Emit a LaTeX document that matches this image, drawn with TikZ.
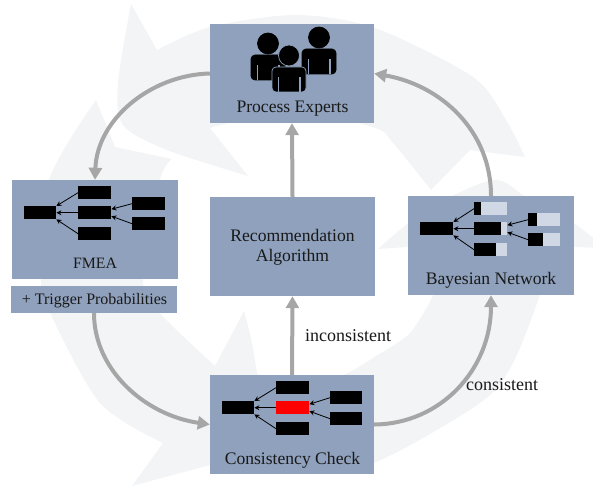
\documentclass[tikz,border=0pt]{standalone}
\usepackage{fontspec}
\setmainfont{Liberation Serif}
\usetikzlibrary{calc,arrows.meta}
\definecolor{boxblue}{HTML}{8FA1BC}
\definecolor{ringgrey}{HTML}{F3F4F6}
\definecolor{linkgrey}{HTML}{A6A6A6}
\definecolor{probpale}{HTML}{D0D7E5}
\tikzset{
  bigbox/.style={fill=boxblue,draw=none,inner sep=0pt,minimum width=#1,minimum height=99pt},
  bigbox/.default=165pt,
  lab/.style={font=\fontsize{17.6}{20}\selectfont,text=black!90,inner sep=0pt,anchor=base},
  flow/.style={draw=linkgrey,line width=4pt,-{Triangle[length=12pt,width=13pt]}},
  ringpart/.style={fill=ringgrey,draw=none},
  bar/.style={fill=black,draw=none,inner sep=0pt,minimum width=33pt,minimum height=13pt,anchor=north west},
  palebar/.style={fill=probpale,draw=none,inner sep=0pt,minimum width=33pt,minimum height=13pt,anchor=north west},
  thin link/.style={draw=black,line width=0.8pt,-{Stealth[length=5pt,width=5pt]}},
}
\newcommand{\person}[3]{%
  \fill[black,draw=#3,line width=0.7pt] (#1+17,#2-11.5) circle (10.5);
  \fill[black,draw=#3,line width=0.7pt,rounded corners=4pt]
     (#1,#2+25) -- (#1,#2) -- (#1+34,#2) -- (#1+34,#2+25) -- cycle;
  \fill[boxblue] (#1+5.5,#2+10) rectangle (#1+7,#2+25.5);
  \fill[boxblue] (#1+27,#2+10) rectangle (#1+28.5,#2+25.5);
}
\newcommand{\netlinks}[1]{%
  \draw[thin link] (#1a.west) -- (#1m.north east);
  \draw[thin link] (#1b.west) -- (#1m.east);
  \draw[thin link] (#1c.west) -- (#1m.south east);
  \draw[thin link] (#1d.west) -- ($(#1b.east)+(0,-3.5)$);
  \draw[thin link] (#1e.west) -- ($(#1b.east)+(0,3.5)$);
}
\begin{document}
\begin{tikzpicture}[x=1pt,y=-1pt]
\useasboundingbox (0,0) rectangle (593,486);
% ---- background ring
\fill[ringpart] plot[smooth] coordinates {(157,50) (210,27) (296,15) (375,28) (473,77) (506,120) (525,157)}
  -- (470,150) -- (431,190)
  -- plot[smooth] coordinates {(431,190) (393,143) (375,128) (296,110) (210,128)}
  -- (248,176)
  -- plot[smooth] coordinates {(248,176) (167,150) (123,125) (118,83) (131,4)}
  -- cycle;
\fill[ringpart] plot[smooth] coordinates {(96,100) (49,180) (41,279) (50,313) (100,403) (163,443)}
  -- (132,486) -- (210,465) -- (300,430) -- (257,373)
  -- plot[smooth] coordinates {(257,373) (251,338) (244,311)}
  -- (215,366)
  -- plot[smooth] coordinates {(215,366) (160,313) (143,279) (160,180) (172,159)}
  -- (115,147) -- cycle;
\fill[ringpart] plot[smooth] coordinates {(300,473) (374,463) (480,403) (513,363) (540,295) (548,270)}
  -- (574,247) -- (600,248) -- (600,243) -- (574,223)
  -- plot[smooth] coordinates {(574,223) (526,197) (493,180) (426,210) (378,249)}
  -- (408,247) -- (425,250) -- (433,296)
  -- plot[smooth] coordinates {(433,296) (410,333) (373,358) (343,375) (300,385)}
  -- cycle;
% ---- boxes
\node[bigbox=164pt] (pe) at (292,73.5) {};
\node[bigbox=166pt] (fmea) at (95,229.5) {};
\node[fill=boxblue,inner sep=0pt,minimum width=166pt,minimum height=27pt] (trig) at (94,299.5) {};
\node[bigbox=165pt] (rec) at (292.5,246.5) {};
\node[bigbox=166pt] (bn) at (491,245.5) {};
\node[bigbox=164pt] (cc) at (292,424.5) {};
% ---- connectors
\draw[flow] (pe.west) .. controls (150,75) and (97,120) .. (fmea.north);
\draw[flow] (bn.north) .. controls (491,130) and (440,85) .. (pe.east);
\draw[flow] (trig.south) .. controls (94,370) and (145,415) .. (cc.west);
\draw[flow] (cc.east) .. controls (440,424) and (491,370) .. (bn.south);
\draw[flow] (rec.north) -- (pe.south);
\draw[flow] (cc.north) -- (rec.south);
% ---- people
\person{251}{55}{black}
\person{302}{49}{black}
\person{272}{67}{boxblue}
% ---- FMEA network
\node[bar,minimum width=32pt] (fm) at (24,206) {};
\node[bar] (fa) at (78,186) {};
\node[bar] (fb) at (78,206) {};
\node[bar] (fc) at (78,227) {};
\node[bar] (fd) at (132,197) {};
\node[bar] (fe) at (132,217) {};
\netlinks{f}
% ---- Bayesian network
\node[bar] (bm) at (420,222) {};
\node[palebar] (ba) at (474,202) {};
\node[palebar] (bb) at (474,222) {};
\node[palebar] (bc) at (474,243) {};
\node[palebar,minimum width=32pt] (bd) at (528,213) {};
\node[palebar,minimum width=32pt] (be) at (528,233) {};
\fill[black] (474,202) rectangle (481,215);
\fill[black] (474,222) rectangle (501,235);
\fill[black] (474,243) rectangle (496,256);
\fill[black] (528,213) rectangle (537,226);
\fill[black] (528,233) rectangle (543,246);
\netlinks{b}
% ---- Consistency network
\node[bar,minimum width=32pt] (cm) at (222,401) {};
\node[bar] (ca) at (276,381) {};
\node[bar,fill=red] (cb) at (276,401) {};
\node[bar] (cc2) at (276,422) {};
\node[bar,minimum width=32pt] (cd) at (330,391) {};
\node[bar,minimum width=32pt] (ce) at (330,412) {};
\draw[thin link] (ca.west) -- (cm.north east);
\draw[thin link] (cb.west) -- (cm.east);
\draw[thin link] (cc2.west) -- (cm.south east);
\draw[thin link] (cd.west) -- ($(cb.east)+(0,-3.5)$);
\draw[thin link] (ce.west) -- ($(cb.east)+(0,3.5)$);
% ---- labels
\node[lab] (t1) at (292.5,112.7) {Process Experts};
\node[lab,font=\fontsize{15.8}{18}\selectfont] (t2) at (95,268.5) {FMEA};
\node[lab,font=\fontsize{16}{18}\selectfont] (t3) at (94.5,304) {+ Trigger Probabilities};
\node[lab] (t4a) at (292.5,241) {Recommendation};
\node[lab] (t4b) at (292.5,261) {Algorithm};
\node[lab] (t5) at (491,284) {Bayesian Network};
\node[lab] (t6) at (292.5,464) {Consistency Check};
\node[lab,anchor=base west,font=\fontsize{18}{20}\selectfont] (t7) at (305,341) {inconsistent};
\node[lab,anchor=base west,font=\fontsize{18}{20}\selectfont] (t8) at (466,390) {consistent};
\end{tikzpicture}
\end{document}
